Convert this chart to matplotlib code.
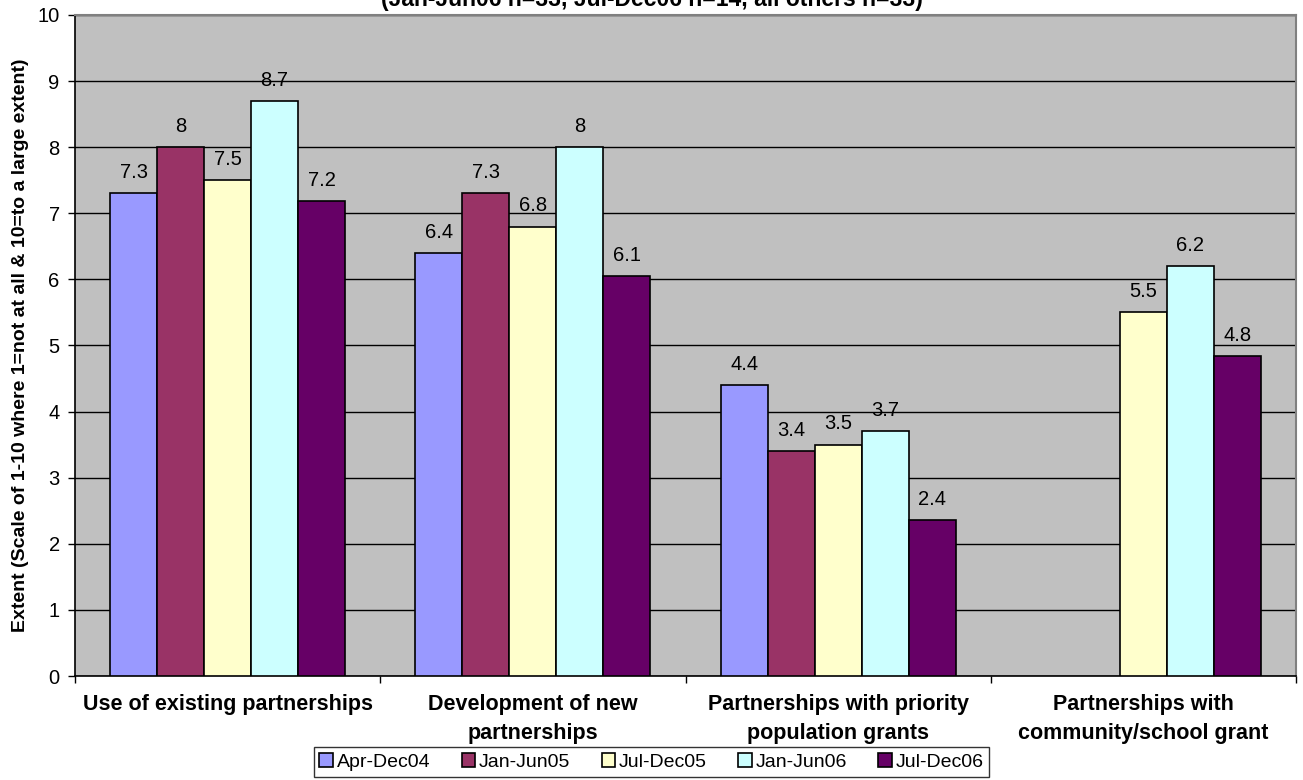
import matplotlib
matplotlib.use("Agg")
import matplotlib.pyplot as plt
import numpy as np

plt.rcParams['font.family'] = ['Liberation Sans', 'DejaVu Sans']

categories = ["Use of existing partnerships",
              "Development of new\npartnerships",
              "Partnerships with priority\npopulation grants",
              "Partnerships with\ncommunity/school grant"]
series_names = ["Apr-Dec04", "Jan-Jun05", "Jul-Dec05", "Jan-Jun06", "Jul-Dec06"]
apr_dec04 = [7.3, 6.4, 4.4, np.nan]
jan_jun05 = [8.0, 7.3, 3.4, np.nan]
jul_dec05 = [7.5, 6.8, 3.5, 5.5]
jan_jun06 = [8.7, 8.0, 3.7, 6.2]
jul_dec06 = [7.18, 6.05, 2.36, 4.84]
apr_dec04_labels = ["7.3", "6.4", "4.4", ""]
jan_jun05_labels = ["8", "7.3", "3.4", ""]
jul_dec05_labels = ["7.5", "6.8", "3.5", "5.5"]
jan_jun06_labels = ["8.7", "8", "3.7", "6.2"]
jul_dec06_labels = ["7.2", "6.1", "2.4", "4.8"]
series_values = [apr_dec04, jan_jun05, jul_dec05, jan_jun06, jul_dec06]
series_labels = [apr_dec04_labels, jan_jun05_labels, jul_dec05_labels,
                 jan_jun06_labels, jul_dec06_labels]
colors = ["#9999FF", "#993366", "#FFFFCC", "#CCFFFF", "#660066"]
yticks = list(range(0, 11))
title = "(Jan-Jun06 n=33, Jul-Dec06 n=14, all others n=33)"
ylabel = "Extent (Scale of 1-10 where 1=not at all & 10=to a large extent)"

fig = plt.figure(figsize=(13.03, 7.8), dpi=100)
ax = fig.add_axes([75/1303, 1-676/780, (1296-75)/1303, (676-15)/780])
ax.set_facecolor("#C0C0C0")

x = np.arange(len(categories))
w = 1/6.5
for j, (name, vals, lbls, c) in enumerate(zip(series_names, series_values,
                                              series_labels, colors)):
    pos = x + (j-2)*w
    ax.bar(pos, vals, width=w, color=c, edgecolor='black', linewidth=1.2,
           label=name, zorder=3)
    for p, v, l in zip(pos, vals, lbls):
        if not np.isnan(v) and l:
            ax.text(p, v + 0.17, l, ha='center', va='bottom', fontsize=14.5, zorder=4)

ax.set_ylim(0, 10)
ax.set_xlim(-0.5, len(categories)-0.5)
ax.set_yticks(yticks)
ax.set_yticklabels([str(t) for t in yticks], fontsize=14.5)
ax.yaxis.grid(True, color='black', linewidth=1)
ax.set_axisbelow(True)
ax.tick_params(axis='y', direction='out', length=5, width=1, color='black', pad=6)

ax.set_xticks(np.arange(-0.5, len(categories)), minor=False)
ax.set_xticklabels([])
ax.set_xticks(x, minor=True)
ax.set_xticklabels(categories, minor=True, fontsize=15.5, fontweight='bold',
                   linespacing=1.5)
ax.tick_params(axis='x', which='major', direction='out', length=5, width=1, color='black')
ax.tick_params(axis='x', which='minor', length=0, pad=13)

for s in ['left', 'bottom']:
    ax.spines[s].set_color('black')
    ax.spines[s].set_linewidth(1.2)
for s in ['top', 'right']:
    ax.spines[s].set_color('#808080')
    ax.spines[s].set_linewidth(1.5)

fig.text(21/1303, 1-345/780, ylabel, rotation=90, ha='center', va='center',
         fontsize=14, fontweight='bold')
fig.text(0.5, 1-6/780, title, ha='center', va='baseline', fontsize=16.5, fontweight='bold')

leg = fig.legend(loc='center', bbox_to_anchor=(651.5/1303, 1-762/780), ncol=5,
                 fontsize=14, frameon=True, fancybox=False, edgecolor='black',
                 handlelength=0.7, handleheight=0.7, handletextpad=0.2,
                 columnspacing=1.6, borderpad=0.3)
leg.get_frame().set_linewidth(1)

fig.savefig("out.png", dpi=100)
